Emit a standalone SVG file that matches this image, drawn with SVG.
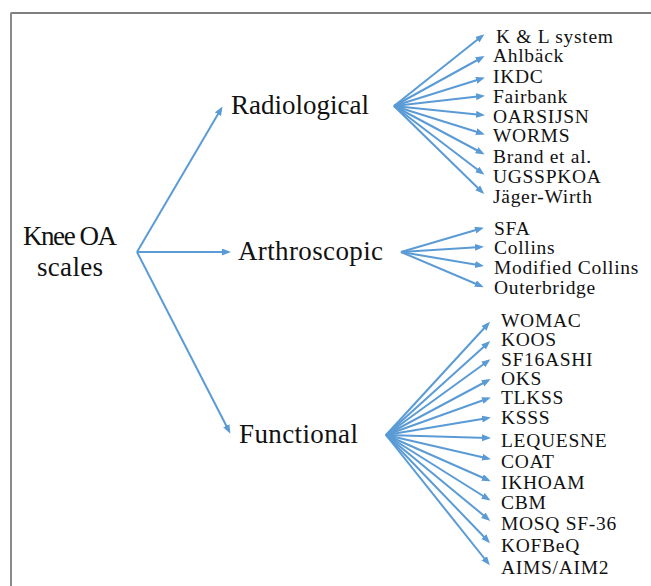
<svg xmlns="http://www.w3.org/2000/svg" width="651" height="586" viewBox="0 0 651 586">
<style>
.t{font-family:"Liberation Serif","Times New Roman",serif;fill:#111}
.main{font-size:27px}
.leaf{font-size:19.5px;letter-spacing:0.7px}
.c line{stroke:#5B9BD5;stroke-width:2;marker-end:url(#ah)}
</style>
<defs>
<marker id="ah" markerUnits="userSpaceOnUse" markerWidth="9" markerHeight="8" refX="6" refY="3.5" orient="auto">
<path d="M0,0 L9,3.5 L0,7 z" fill="#5B9BD5"/>
</marker>
</defs>
<rect width="651" height="586" fill="#fff"/>
<line x1="11" y1="13" x2="651" y2="13" stroke="#555" stroke-width="1.5"/>
<line x1="11" y1="12.5" x2="11" y2="586" stroke="#8a8a8a" stroke-width="2"/>
<g class="c" id="connectors">
<line x1="137" y1="252" x2="221" y2="109"/>
<line x1="137" y1="252" x2="228" y2="252"/>
<line x1="137" y1="252" x2="229" y2="431"/>
<line x1="394" y1="106" x2="482" y2="36"/>
<line x1="394" y1="106" x2="482" y2="57.5"/>
<line x1="394" y1="106" x2="482" y2="78.5"/>
<line x1="394" y1="106" x2="482" y2="96"/>
<line x1="394" y1="106" x2="482" y2="115"/>
<line x1="394" y1="106" x2="482" y2="133.5"/>
<line x1="394" y1="106" x2="482" y2="153"/>
<line x1="394" y1="106" x2="482" y2="173"/>
<line x1="394" y1="106" x2="482" y2="192"/>
<line x1="401" y1="252" x2="481" y2="228.5"/>
<line x1="401" y1="252" x2="481" y2="247"/>
<line x1="401" y1="252" x2="481" y2="265.5"/>
<line x1="401" y1="252" x2="481" y2="286"/>
<line x1="386" y1="435" x2="488" y2="324"/>
<line x1="386" y1="435" x2="488" y2="343"/>
<line x1="386" y1="435" x2="488" y2="361"/>
<line x1="386" y1="435" x2="488" y2="380.5"/>
<line x1="386" y1="435" x2="488" y2="398.5"/>
<line x1="386" y1="435" x2="488" y2="418"/>
<line x1="386" y1="435" x2="488" y2="438"/>
<line x1="386" y1="435" x2="488" y2="458.5"/>
<line x1="386" y1="435" x2="488" y2="480"/>
<line x1="386" y1="435" x2="488" y2="499"/>
<line x1="386" y1="435" x2="488" y2="519"/>
<line x1="386" y1="435" x2="488" y2="541"/>
<line x1="386" y1="435" x2="488" y2="563"/>
</g>
<g id="root"><text class="t main" x="23" y="245" textLength="94">Knee OA</text><text class="t main" x="37" y="276" textLength="66">scales</text></g>
<g id="radiological"><text class="t main" x="231" y="114">Radiological</text></g>
<g id="arthroscopic"><text class="t main" x="238" y="260" textLength="145">Arthroscopic</text></g>
<g id="functional"><text class="t main" x="239" y="443" textLength="119">Functional</text></g>
<g id="rad-leaves">
<g id="kl"><text class="t leaf" x="496" y="43">K &amp; L system</text></g>
<g id="ahlback"><text class="t leaf" x="493" y="62">Ahlbäck</text></g>
<g id="ikdc"><text class="t leaf" x="493" y="83">IKDC</text></g>
<g id="fairbank"><text class="t leaf" x="493" y="103">Fairbank</text></g>
<g id="oarsijsn"><text class="t leaf" x="493" y="123">OARSIJSN</text></g>
<g id="worms"><text class="t leaf" x="493" y="142">WORMS</text></g>
<g id="brand"><text class="t leaf" x="493" y="163">Brand et al.</text></g>
<g id="ugsspkoa"><text class="t leaf" x="493" y="183">UGSSPKOA</text></g>
<g id="jager"><text class="t leaf" x="493" y="203">Jäger-Wirth</text></g>
</g>
<g id="arth-leaves">
<g id="sfa"><text class="t leaf" x="494" y="235">SFA</text></g>
<g id="collins"><text class="t leaf" x="494" y="254">Collins</text></g>
<g id="modcollins"><text class="t leaf" x="494" y="274">Modified Collins</text></g>
<g id="outerbridge"><text class="t leaf" x="494" y="294">Outerbridge</text></g>
</g>
<g id="func-leaves">
<g id="womac"><text class="t leaf" x="501" y="327">WOMAC</text></g>
<g id="koos"><text class="t leaf" x="501" y="346">KOOS</text></g>
<g id="sf16ashi"><text class="t leaf" x="501" y="366">SF16ASHI</text></g>
<g id="oks"><text class="t leaf" x="501" y="385">OKS</text></g>
<g id="tlkss"><text class="t leaf" x="501" y="404">TLKSS</text></g>
<g id="ksss"><text class="t leaf" x="501" y="424">KSSS</text></g>
<g id="lequesne"><text class="t leaf" x="501" y="447">LEQUESNE</text></g>
<g id="coat"><text class="t leaf" x="501" y="468">COAT</text></g>
<g id="ikhoam"><text class="t leaf" x="501" y="489">IKHOAM</text></g>
<g id="cbm"><text class="t leaf" x="501" y="509">CBM</text></g>
<g id="mosq"><text class="t leaf" x="501" y="530">MOSQ SF-36</text></g>
<g id="kofbeq"><text class="t leaf" x="501" y="552">KOFBeQ</text></g>
<g id="aims"><text class="t leaf" x="501" y="574">AIMS/AIM2</text></g>
</g>
</svg>
